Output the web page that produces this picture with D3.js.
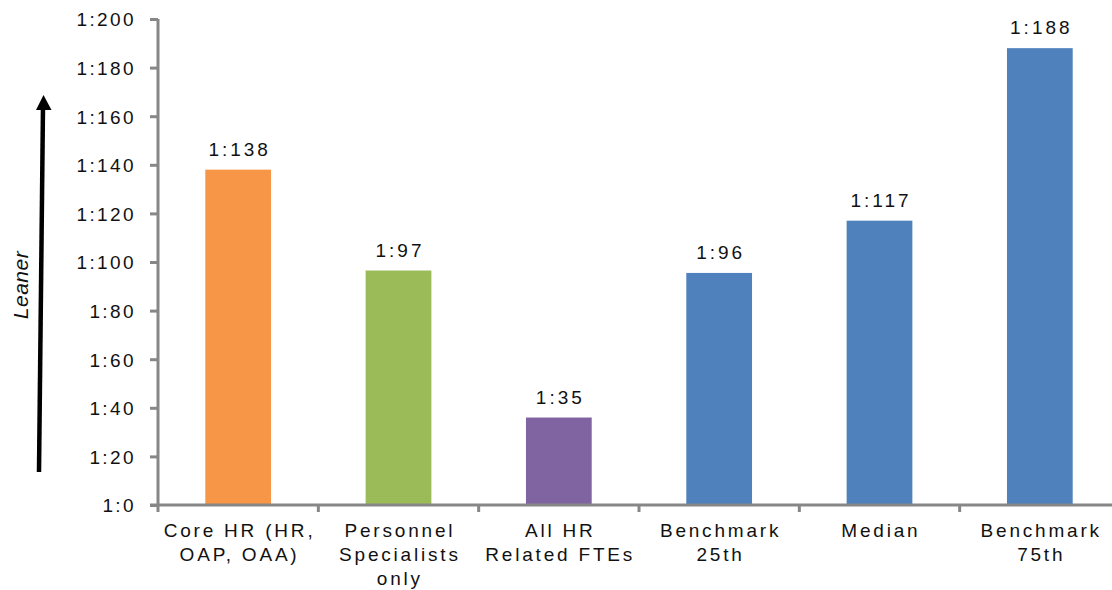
<!DOCTYPE html>
<html>
<head>
<meta charset="utf-8">
<script src="https://cdn.jsdelivr.net/npm/d3@7"></script>
<style>
  html, body { margin: 0; padding: 0; background: #fff; }
  svg { display: block; }
  text { font-family: "Liberation Sans", Arial, sans-serif; fill: #111; }
</style>
</head>
<body>
<svg id="chart" width="1112" height="590"></svg>
<script>
// ---- data ----
const categories = [
  ["Core HR (HR,", "OAP, OAA)"],
  ["Personnel", "Specialists", "only"],
  ["All HR", "Related FTEs"],
  ["Benchmark", "25th"],
  ["Median"],
  ["Benchmark", "75th"]
];
const values = [138, 96.5, 36, 95.5, 117, 188];
const valueLabels = ["1:138", "1:97", "1:35", "1:96", "1:117", "1:188"];
const barColors = ["#F79646", "#9BBB59", "#8064A2", "#4F81BD", "#4F81BD", "#4F81BD"];
const yTicks = [0, 20, 40, 60, 80, 100, 120, 140, 160, 180, 200];
const yTickLabels = yTicks.map(v => "1:" + v);
const axisTitle = "Leaner";

// ---- layout ----
const svg = d3.select("#chart");
const x0 = 158, x1 = 1120, yTop = 19, yBottom = 505;
const idx = d3.range(categories.length);

const x = d3.scaleBand().domain(idx).range([x0, x1]).paddingInner(0.59).paddingOuter(0.295);
const y = d3.scaleLinear().domain([0, 200]).range([yBottom, yTop]);

const axisColor = "#878787";

// bars
svg.append("g").selectAll("rect").data(idx).join("rect")
  .attr("x", i => x(i))
  .attr("y", i => y(values[i]))
  .attr("width", x.bandwidth())
  .attr("height", i => y(0) - y(values[i]))
  .attr("fill", i => barColors[i]);

// value labels
svg.append("g").selectAll("text").data(idx).join("text")
  .attr("x", i => x(i) + x.bandwidth() / 2 + 1.5)
  .attr("y", i => y(values[i]) - 14)
  .attr("text-anchor", "middle")
  .attr("font-size", 19)
  .attr("letter-spacing", 3)
  .text(i => valueLabels[i]);

// y axis
const yAxis = d3.axisLeft(y).tickValues(yTicks)
  .tickFormat((d, i) => yTickLabels[i]).tickSize(8).tickPadding(14);
const gy = svg.append("g").attr("transform", `translate(${x0},0)`).call(yAxis);
gy.select(".domain").attr("stroke", axisColor).attr("stroke-width", 3)
  .attr("d", `M0,${yTop}V${yBottom}`);
gy.selectAll(".tick line").attr("stroke", axisColor).attr("stroke-width", 3);
gy.selectAll(".tick text").attr("font-size", 19).attr("letter-spacing", 2.4)
  .attr("dy", "0.36em")
  .attr("font-family", "Liberation Sans, Arial, sans-serif").attr("fill", "#111");

// x axis
const boundaries = d3.range(categories.length + 1).map(i => x0 + i * x.step());
const gx = svg.append("g");
gx.append("line").attr("x1", x0 - 8).attr("x2", x1).attr("y1", yBottom).attr("y2", yBottom)
  .attr("stroke", axisColor).attr("stroke-width", 3);
gx.selectAll("line.tk").data(boundaries).join("line").attr("class", "tk")
  .attr("x1", d => d).attr("x2", d => d)
  .attr("y1", yBottom).attr("y2", yBottom + 7)
  .attr("stroke", axisColor).attr("stroke-width", 3);

const xl = svg.append("g").selectAll("text").data(idx).join("text")
  .attr("text-anchor", "middle")
  .attr("font-size", 19)
  .attr("letter-spacing", 2.8);
xl.each(function(i) {
  const t = d3.select(this);
  categories[i].forEach((line, k) => {
    t.append("tspan")
      .attr("x", x(i) + x.bandwidth() / 2 + 1.4)
      .attr("y", 537 + k * 24)
      .text(line);
  });
});

// arrow
const ag = svg.append("g");
ag.append("line").attr("x1", 39).attr("y1", 472).attr("x2", 43).attr("y2", 106)
  .attr("stroke", "#000").attr("stroke-width", 4.5);
ag.append("path").attr("d", "M43.5,95 L51.5,110 L36,110 Z").attr("fill", "#000");

// axis title
svg.append("text")
  .attr("transform", "translate(28,285) rotate(-90)")
  .attr("text-anchor", "middle")
  .attr("font-size", 21)
  .attr("font-style", "italic")
  .attr("letter-spacing", 0.5)
  .text(axisTitle);
</script>
</body>
</html>
